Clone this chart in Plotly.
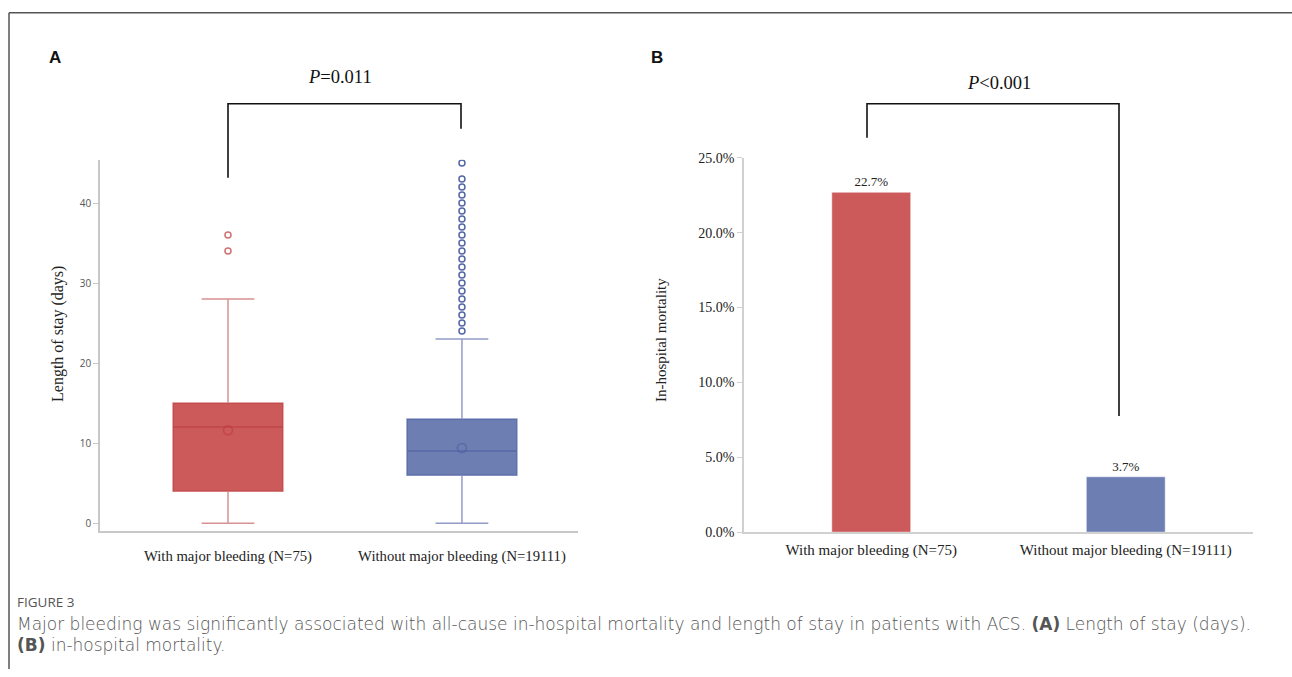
import plotly.graph_objects as go

W, H = 1292, 677

# ---------------- data ----------------
groups = ["With major bleeding (N=75)", "Without major bleeding (N=19111)"]

# Panel A: length of stay (days) box statistics
los_q1 = [4, 6]
los_median = [12, 9]
los_q3 = [15, 13]
los_lower = [0, 0]
los_upper = [28, 23]
los_mean = [11.6, 9.4]
los_outliers_with = [34, 36]
los_outliers_without = [24, 25, 26, 27, 28, 29, 30, 31, 32, 33, 34, 35, 36, 37, 38,
                        39, 40, 41, 42, 43, 45]

# Panel B: in-hospital mortality (%)
mortality = [22.7, 3.7]

p_values = ["<i>P</i>=0.011", "<i>P</i>&lt;0.001"]

a_ticks = [0, 10, 20, 30, 40]
b_ticks = [0, 5, 10, 15, 20, 25]
b_ticktext = ["0.0%", "5.0%", "10.0%", "15.0%", "20.0%", "25.0%"]

# ---------------- styling ----------------
red_fill = "#CD5A5B"
red_line = "rgba(185,55,55,0.55)"
red_pt = "#D07070"
blue_fill = "#6D7EB3"
blue_line = "rgba(75,90,160,0.6)"
blue_pt = "#5566A8"

serif = "Liberation Serif"
sans = "Open Sans"

# the photographed page appears vertically scaled/shifted; compensate
Y_SCALE, Y_SHIFT = 0.977, 6.3


def px(x):
    return x / W


def py(y):
    return 1 - ((y - Y_SHIFT) / Y_SCALE) / H


fig = go.Figure()

# ---- Panel A boxes ----
fills = [red_fill, blue_fill]
lines = [red_line, blue_line]
for i in range(2):
    fig.add_trace(go.Box(
        x=[i], q1=[los_q1[i]], median=[los_median[i]], q3=[los_q3[i]],
        lowerfence=[los_lower[i]], upperfence=[los_upper[i]],
        width=0.47, whiskerwidth=0.48, fillcolor=fills[i],
        line=dict(color=lines[i], width=1.5), boxpoints=False,
        xaxis="x", yaxis="y", showlegend=False, hoverinfo="skip"))
    fig.add_trace(go.Scatter(
        x=[i], y=[los_mean[i]], mode="markers",
        marker=dict(symbol="circle-open", size=9, color=lines[i], line=dict(width=1.5)),
        xaxis="x", yaxis="y", showlegend=False, hoverinfo="skip"))

fig.add_trace(go.Scatter(
    x=[0] * len(los_outliers_with), y=los_outliers_with, mode="markers",
    marker=dict(symbol="circle-open", size=6, color=red_pt, line=dict(width=1.5)),
    xaxis="x", yaxis="y", showlegend=False, hoverinfo="skip"))
fig.add_trace(go.Scatter(
    x=[1] * len(los_outliers_without), y=los_outliers_without, mode="markers",
    marker=dict(symbol="circle-open", size=6, color=blue_pt, line=dict(width=1.5)),
    xaxis="x", yaxis="y", showlegend=False, hoverinfo="skip"))

# ---- Panel B bars ----
fig.add_trace(go.Bar(
    x=[0, 1], y=mortality, width=0.31,
    marker=dict(color=[red_fill, blue_fill], line=dict(color="rgba(255,255,255,0.5)", width=1)),
    text=[f"{v:.1f}%" for v in mortality], textposition="outside",
    textfont=dict(family=serif, size=13, color="#222"), cliponaxis=False,
    xaxis="x2", yaxis="y2", showlegend=False, hoverinfo="skip"))

fig.update_layout(
    width=W, height=H, autosize=False, margin=dict(l=0, r=0, t=0, b=0, pad=0),
    paper_bgcolor="white", plot_bgcolor="white",
    xaxis=dict(domain=[px(100), px(578)], range=[-0.547, 1.496], anchor="y",
               tickvals=[0, 1], ticktext=groups, ticks="outside", ticklen=10,
               tickcolor="rgba(0,0,0,0)",
               tickfont=dict(family=serif, size=14.7, color="#222"),
               showline=True, linecolor="#c8c8c8", linewidth=1.5,
               showgrid=False, zeroline=False, fixedrange=True),
    yaxis=dict(domain=[py(530), py(159)], range=[-1, 45.4], anchor="x",
               tickvals=a_ticks, ticks="outside", ticklen=5, tickcolor="#c8c8c8",
               tickfont=dict(family=sans, size=10, color="#555"),
               showline=True, linecolor="#c8c8c8", linewidth=1.5,
               showgrid=False, zeroline=False, fixedrange=True),
    xaxis2=dict(domain=[px(744), px(1253)], range=[-0.5, 1.5], anchor="y2",
                tickvals=[0, 1], ticktext=groups, ticks="outside", ticklen=3,
                tickcolor="rgba(0,0,0,0)",
                tickfont=dict(family=serif, size=15, color="#222"),
                showline=True, linecolor="#d0d0d0", linewidth=1.5,
                showgrid=False, zeroline=False, fixedrange=True),
    yaxis2=dict(domain=[py(531), py(157)], range=[0, 25], anchor="x2",
                tickvals=b_ticks, ticktext=b_ticktext,
                ticks="outside", ticklen=5, tickcolor="#d0d0d0",
                tickfont=dict(family=serif, size=14, color="#222"),
                showline=True, linecolor="#d0d0d0", linewidth=1.5,
                showgrid=False, zeroline=False, fixedrange=True),
)

shapes = []
# frame
shapes.append(dict(type="line", xref="paper", yref="paper", x0=px(9), x1=1, y0=py(12), y1=py(12),
                   line=dict(color="#555", width=1.5)))
shapes.append(dict(type="line", xref="paper", yref="paper", x0=px(9), x1=px(9), y0=py(12), y1=0,
                   line=dict(color="#555", width=1.5)))


def bracket(xl, xr, ytop, yl, yr):
    path = (f"M {px(xl)},{py(yl)} L {px(xl)},{py(ytop)} L {px(xr)},{py(ytop)} "
            f"L {px(xr)},{py(yr)}")
    return dict(type="path", xref="paper", yref="paper", path=path,
                line=dict(color="#111", width=1.6))


shapes.append(bracket(228, 461, 103, 177, 128))
shapes.append(bracket(867, 1119, 103, 137, 415))
fig.update_layout(shapes=shapes)


def note(text, x, y, size, family, color="#111", xanchor="center", angle=0, weight=None):
    f = dict(family=family, size=size, color=color)
    if weight:
        f["weight"] = weight
    return dict(text=text, x=px(x), y=py(y), xref="paper", yref="paper",
                xanchor=xanchor, yanchor="middle", showarrow=False, textangle=angle,
                font=f)


ann = [
    note(p_values[0], 340, 76, 18.5, serif),
    note(p_values[1], 999, 82, 18.5, serif),
    note("<b>A</b>", 55, 57, 17, "Liberation Sans"),
    note("<b>B</b>", 657, 57, 17, "Liberation Sans"),
    note("Length of stay (days)", 58, 333, 16, serif, "#222", angle=-90),
    note("In-hospital mortality", 661, 339, 15, serif, "#222", angle=-90),
    note("FIGURE 3", 15, 601, 13.5, sans, "#555", xanchor="left"),
    note("Major bleeding was significantly associated with all-cause in-hospital mortality "
         "and length of stay in patients with ACS. <b>(A)</b> Length of stay (days).",
         15, 623, 17, "DejaVu Sans", "#555", xanchor="left", weight=300),
    note("<b>(B)</b> in-hospital mortality.", 15, 644, 17, "DejaVu Sans", "#555",
         xanchor="left", weight=300),
]
fig.update_layout(annotations=ann)

post = ("document.documentElement.style.margin='0';document.documentElement.style.padding='0';"
        "document.documentElement.style.overflow='hidden';"
        "document.body.style.margin='0';document.body.style.padding='0';"
        "document.body.style.overflow='hidden';")

fig.write_html("out.html", config={"displayModeBar": False, "responsive": False},
               default_width="1292px", default_height="677px", post_script=post)
